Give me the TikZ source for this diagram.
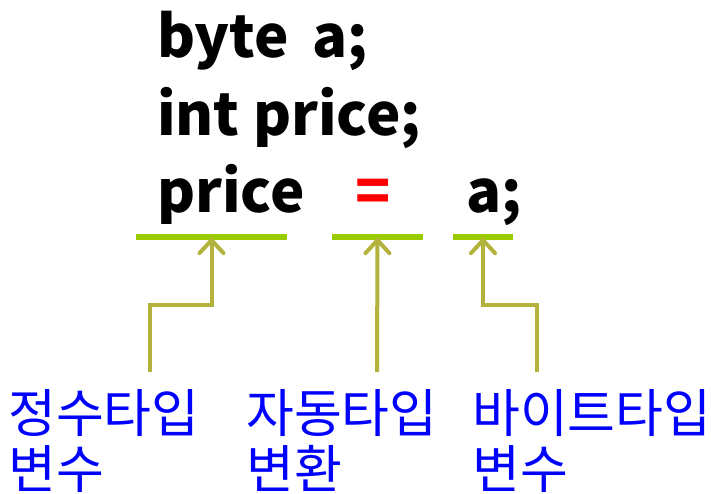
\documentclass[tikz,border=0pt]{standalone}
\usepackage{fontspec}
\setmainfont{Noto Sans CJK KR}
\usepackage{xcolor}
\usetikzlibrary{arrows.meta, positioning}
\definecolor{barGreen}{RGB}{153,204,0}
\definecolor{arrOlive}{RGB}{178,178,60}

\begin{document}
\begin{tikzpicture}[
    x=1pt, y=-1pt,
    code/.style={font=\fontsize{58}{70}\selectfont\bfseries, inner sep=0pt},
    bar/.style={rectangle, fill=barGreen, inner sep=0pt, minimum height=6pt},
    lab/.style={font=\fontsize{52}{56}\selectfont, text=blue, align=left,
                inner sep=0pt},
    arr/.style={-{Straight Barb[length=13pt, width=24pt, line cap=round]},
                draw=arrOlive, line width=4pt, line join=miter},
  ]
    \useasboundingbox (0,0) rectangle (711,493);
    % code lines
    \node[code, anchor=base west] (decl1) at (157,57)  {byte\hspace{10pt} a;};
    \node[code, anchor=base west] (decl2) at (157,135) {int price;};
    \node[code, anchor=base west] (lhs)   at (157,212) {price};
    \node[code, anchor=base, text=red] (eq) at (373,212) {=};
    \node[code, anchor=base west] (rhs)   at (466,212) {a;};

    % underlines
    \node[bar, minimum width=151pt] (bar1) at (211.5,237) {};
    \node[bar, minimum width=91pt]  (bar2) at (377.5,237) {};
    \node[bar, minimum width=60pt]  (bar3) at (483,237)   {};

    % labels
    \node[lab, anchor=north west] (lab1) at (8,389)   {정수타입\\변수};
    \node[lab, anchor=north west] (lab2) at (246,389) {자동타입\\변환};
    \node[lab, anchor=north west] (lab3) at (472,389) {바이트타입\\변수};

    \coordinate (s1) at (150,372);
    \coordinate (s2) at (377,372);
    \coordinate (s3) at (537,372);

    \draw[arr] (s1) -- ++(0,-67) -| ([yshift=3pt]bar1.south);
    \draw[arr] (s2) -- ([yshift=3pt]bar2.south);
    \draw[arr] (s3) -- ++(0,-67) -| ([yshift=3pt]bar3.south);
\end{tikzpicture}
\end{document}
